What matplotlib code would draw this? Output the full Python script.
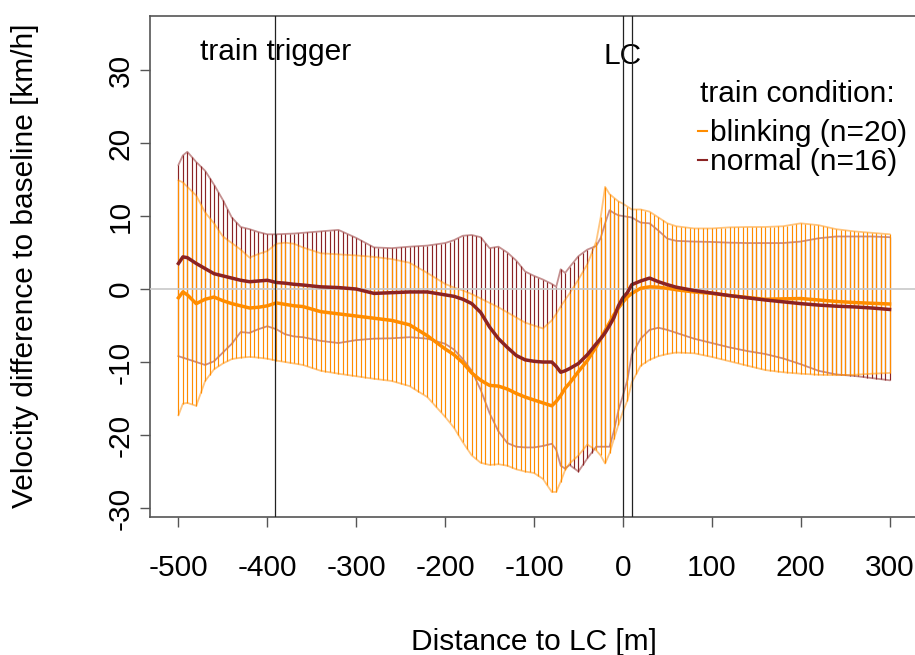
import numpy as np
import matplotlib
matplotlib.use('Agg')
import matplotlib.pyplot as plt
from matplotlib.lines import Line2D

plt.rcParams['font.family'] = ['Liberation Sans', 'DejaVu Sans']
plt.rcParams['axes.unicode_minus'] = False

# distance to level crossing [m]
dist = [-500, -495, -490, -480, -470, -460, -450, -440, -430, -420, -410, -400,
        -390, -380, -370, -360, -340, -320, -300, -280, -260, -240, -220, -200,
        -190, -180, -170, -160, -150, -140, -130, -120, -110, -100, -90, -80,
        -75, -70, -65, -60, -50, -40, -30, -25, -20, -15, -10, -5, 0, 5, 10,
        20, 30, 40, 50, 60, 80, 100, 120, 140, 160, 180, 200, 220, 240, 260,
        280, 300]

# blinking (n=20): mean, mean+sd, mean-sd
blink_mean = [-1.2, -0.4, -0.8, -2.0, -1.4, -1.1, -1.6, -2.0, -2.3, -2.6, -2.5, -2.3,
              -1.9, -2.1, -2.3, -2.4, -3.1, -3.4, -3.7, -4.0, -4.3, -4.9, -6.4, -8.2,
              -9.0, -10.1, -11.5, -12.5, -13.2, -13.3, -13.7, -14.3, -14.8, -15.2, -15.6, -16.0,
              -15.4, -14.6, -13.6, -12.9, -11.3, -9.8, -7.9, -6.8, -5.7, -4.6, -3.5, -2.6, -1.8, -1.1, -0.6,
              0.1, 0.3, 0.25, 0.1, -0.1, -0.4, -0.6, -0.9, -1.15, -1.4, -1.35, -1.3, -1.5, -1.7, -1.85,
              -1.95, -2.05]
blink_hi = [14.9, 14.6, 14.0, 12.8, 10.5, 9.0, 7.2, 6.3, 5.4, 4.3, 4.8, 5.2,
            6.2, 6.35, 6.2, 5.7, 4.9, 4.75, 4.6, 4.4, 4.1, 3.6, 2.2, 0.7,
            0.2, -0.2, -0.7, -1.3, -1.9, -2.5, -3.2, -3.9, -4.6, -5.0, -5.4, -4.3,
            -3.4, -2.4, -1.5, -0.6, 1.3, 3.4, 6.5, 9.8, 14.0, 13.0, 12.5, 12.0, 11.7, 11.3, 10.9,
            10.9, 10.6, 9.8, 9.0, 8.6, 8.3, 8.3, 8.45, 8.5, 8.5, 8.6, 9.0, 8.75, 8.2, 7.9,
            7.7, 7.5]
blink_lo = [-17.3, -15.7, -15.6, -16.0, -12.6, -11.0, -10.2, -9.6, -9.4, -9.3, -9.4, -9.55,
            -9.8, -10.0, -10.2, -10.4, -11.2, -11.6, -11.95, -12.3, -12.6, -13.3, -14.8, -17.5,
            -19.0, -21.0, -22.8, -23.8, -24.1, -24.0, -24.2, -24.7, -25.0, -25.2, -26.0, -27.8,
            -27.8, -26.4, -24.8, -23.9, -22.8, -21.3, -22.1, -22.8, -23.9, -22.5, -20.5, -18.6, -16.8, -15.3, -12.8,
            -10.5, -9.7, -9.2, -8.9, -8.7, -8.8, -9.3, -9.9, -10.5, -11.1, -11.4, -11.6, -11.75, -11.8, -11.75,
            -11.6, -11.5]

# normal (n=16): mean, mean+sd, mean-sd
norm_mean = [3.5, 4.4, 4.3, 3.5, 2.8, 2.1, 1.8, 1.5, 1.2, 1.0, 1.1, 1.2,
             0.9, 0.8, 0.65, 0.55, 0.3, 0.2, 0.0, -0.6, -0.5, -0.4, -0.4, -0.8,
             -1.0, -1.4, -2.0, -3.2, -5.2, -6.8, -8.0, -9.1, -9.7, -9.9, -10.0, -10.0,
             -10.6, -11.4, -11.2, -10.9, -10.2, -9.0, -7.5, -6.8, -6.0, -5.0, -3.9, -2.3, -1.2, -0.5, 0.6,
             1.1, 1.5, 1.0, 0.6, 0.25, -0.2, -0.55, -0.9, -1.2, -1.5, -1.75, -2.0, -2.2, -2.35, -2.45,
             -2.6, -2.8]
norm_hi = [17.0, 18.3, 18.8, 17.4, 16.2, 14.3, 12.2, 9.8, 8.5, 8.2, 7.8, 7.5,
           7.5, 7.55, 7.6, 7.7, 7.9, 8.1, 7.0, 5.7, 5.6, 5.8, 5.95, 6.3,
           6.7, 7.3, 7.4, 7.1, 5.6, 5.8, 5.0, 3.9, 2.4, 1.8, 1.3, 0.7,
           0.3, 2.7, 2.2, 3.0, 4.5, 5.4, 5.9, 7.0, 9.0, 10.8, 10.4, 10.1, 10.0, 9.9, 9.8,
           9.1, 9.0, 8.0, 6.9, 6.6, 6.5, 6.45, 6.35, 6.3, 6.3, 6.3, 6.5, 6.95, 7.2, 7.2,
           7.2, 7.1]
norm_lo = [-9.2, -9.4, -9.6, -10.0, -10.4, -9.9, -8.7, -7.5, -5.9, -6.0, -5.5, -5.1,
           -5.5, -6.2, -6.5, -6.6, -7.1, -7.4, -7.0, -6.8, -6.75, -6.6, -6.8, -7.5,
           -8.3, -9.6, -11.2, -13.8, -17.0, -19.5, -21.1, -21.6, -21.7, -21.7, -21.5, -21.2,
           -22.0, -24.2, -24.6, -24.1, -25.0, -23.2, -21.6, -21.6, -21.6, -21.6, -19.4, -16.6, -14.6, -12.5, -9.0,
           -6.8, -5.6, -5.3, -5.6, -6.0, -6.8, -7.4, -8.0, -8.5, -8.9, -9.5, -10.3, -11.2, -11.7, -11.9,
           -12.2, -12.5]

trigger_pos = -391
lc_pos = [0, 10]
legend_labels = ['blinking (n=20)', 'normal (n=16)']

col_blink = '#FF8C00'
col_norm = '#8B2323'
fs = 21.5

fig = plt.figure(figsize=(9.15, 6.55), dpi=100)
ax = fig.add_axes([150 / 915, 138 / 655, 768 / 915, 501.5 / 655])

# vertical shading lines every 5 m between mean-sd and mean+sd
hatch_x = np.arange(-500, 301, 5)
for lo, hi, col, z in [(norm_lo, norm_hi, col_norm, 1), (blink_lo, blink_hi, col_blink, 3)]:
    ax.vlines(hatch_x, np.interp(hatch_x, dist, lo), np.interp(hatch_x, dist, hi),
              color=col, lw=0.85, zorder=z)
    ax.plot(dist, hi, color=col, alpha=0.5, lw=1.3, zorder=z + 0.5)
    ax.plot(dist, lo, color=col, alpha=0.5, lw=1.3, zorder=z + 0.5)

ax.axhline(0, color='#C8C8C8', lw=1.2, zorder=4)
ax.plot(dist, blink_mean, color=col_blink, lw=2.5, zorder=5)
ax.plot(dist, norm_mean, color=col_norm, lw=2.5, zorder=6)

ax.axvline(trigger_pos, color='#222222', lw=0.9, zorder=7)
for p in lc_pos:
    ax.axvline(p, color='#222222', lw=0.9, zorder=7)
ax.text(trigger_pos, 31.4, 'train trigger', fontsize=fs, ha='center', va='baseline')
ax.text(0, 30.8, 'LC', fontsize=fs, ha='center', va='baseline')

ax.set_xlim(-532, 332)
ax.set_ylim(-31.23, 37.47)
ax.set_xticks(np.arange(-500, 301, 100))
ax.set_yticks(np.arange(-30, 31, 10))
ax.set_yticklabels([str(v) for v in range(-30, 31, 10)], rotation=90, va='center')
ax.tick_params(axis='x', length=7, width=1, color='#555555', labelsize=fs, pad=20)
ax.tick_params(axis='y', length=7, width=1, color='#555555', labelsize=fs, pad=4)
for s in ax.spines.values():
    s.set_color('#555555')
    s.set_linewidth(1.2)

ax.set_xlabel('Distance to LC [m]', fontsize=fs)
ax.set_ylabel('Velocity difference to baseline [km/h]', fontsize=fs)
ax.xaxis.set_label_coords(0.5, -0.221)
ax.yaxis.set_label_coords(-0.145, 0.5)

# legend title as its own line, entries below with the short dash markers
ax.text(0.716, 0.8275, 'train condition:', transform=ax.transAxes, fontsize=fs,
        ha='left', va='baseline')
handles = [Line2D([], [], color=col_blink, lw=1.5), Line2D([], [], color=col_norm, lw=1.5)]
ax.legend(handles, legend_labels, loc='upper left', bbox_to_anchor=(0.714, 0.793),
          frameon=False, fontsize=fs, handlelength=0.3, handletextpad=0.1,
          labelspacing=0.03, borderpad=0, borderaxespad=0)

fig.savefig('out.png', dpi=100)
